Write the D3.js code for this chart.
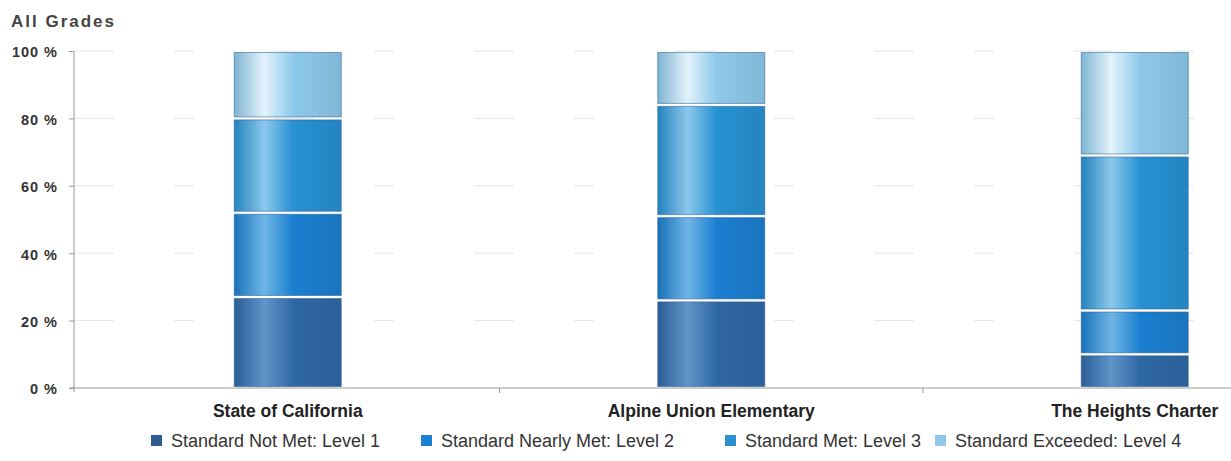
<!DOCTYPE html>
<html>
<head>
<meta charset="utf-8">
<script src="https://cdn.jsdelivr.net/npm/d3@7"></script>
<style>
  body { margin: 0; background: #fff; }
  text { font-family: "Liberation Sans", Arial, sans-serif; }
</style>
</head>
<body>
<div id="chart"></div>
<script>
// data (percent of students)
var schools = ['State of California', 'Alpine Union Elementary', 'The Heights Charter'];
var levels = ['Standard Not Met: Level 1', 'Standard Nearly Met: Level 2', 'Standard Met: Level 3', 'Standard Exceeded: Level 4'];
var level1 = [27, 26, 10];
var level2 = [25, 25, 13];
var level3 = [28, 33, 46];
var level4 = [20, 16, 31];
var yTicks = [0, 20, 40, 60, 80, 100];

var colors = ['#2f68a6', '#1b7fd0', '#2791d3', '#8cc9ea'];
var lightColors = ['#5f95c8', '#6fb5e6', '#8cc8ec', '#e3f3fb'];
var legendColors = ['#2e5d94', '#1a80d4', '#2a8fcc', '#8fc8e8'];

var width = 1231, height = 461;
var margin = { top: 51, left: 74, bottom: 73 };

var svg = d3.select('#chart').append('svg')
    .attr('width', width)
    .attr('height', height);

// gradients to get the shiny-bar look
var defs = svg.append('defs');
colors.forEach(function (c, i) {
    var grad = defs.append('linearGradient')
        .attr('id', 'g' + i)
        .attr('x1', '0%').attr('x2', '100%').attr('y1', '0%').attr('y2', '0%');
    grad.append('stop').attr('offset', '0%').attr('stop-color', d3.color(c).darker(0.3));
    grad.append('stop').attr('offset', '28%').attr('stop-color', lightColors[i]);
    grad.append('stop').attr('offset', '55%').attr('stop-color', c);
    grad.append('stop').attr('offset', '100%').attr('stop-color', d3.color(c).darker(0.25));
});

var y = d3.scaleLinear()
    .domain([0, 100])
    .range([height - margin.bottom, margin.top]);

// band range runs past the right edge, like the cropped original
var x = d3.scaleBand()
    .domain(schools)
    .range([margin.left + 2, margin.left + 2 + 3 * 423.5])
    .paddingInner(0)
    .paddingOuter(0);

var barWidth = 107;

// faint gridlines
svg.append('g')
    .selectAll('line')
    .data(yTicks.slice(1))
    .enter().append('line')
    .attr('x1', margin.left)
    .attr('x2', width)
    .attr('y1', function (d) { return y(d); })
    .attr('y2', function (d) { return y(d); })
    .attr('stroke', '#e4e4e4')
    .attr('stroke-width', 1)
    .attr('stroke-dasharray', '40,60,20,80');

// stack the series
var rows = schools.map(function (s, i) {
    return { school: s, l1: level1[i], l2: level2[i], l3: level3[i], l4: level4[i] };
});
var stack = d3.stack().keys(['l1', 'l2', 'l3', 'l4']);
var series = stack(rows);

var layer = svg.append('g')
    .selectAll('g')
    .data(series)
    .enter().append('g')
    .attr('fill', function (d, i) { return 'url(#g' + i + ')'; });

layer.selectAll('rect')
    .data(function (d) { return d; })
    .enter().append('rect')
    .attr('x', function (d) { return x(d.data.school) + x.bandwidth() / 2 - barWidth / 2; })
    .attr('width', barWidth)
    .attr('y', function (d) { return y(d[1]) + 1.5; })
    .attr('height', function (d) { return Math.max(0, y(d[0]) - y(d[1]) - 3); })
    .attr('stroke', '#2a5d8f')
    .attr('stroke-opacity', 0.55)
    .attr('stroke-width', 1);

// y axis
var yAxis = svg.append('g')
    .attr('transform', 'translate(' + margin.left + ',0)')
    .call(d3.axisLeft(y).tickValues(yTicks).tickSize(5).tickFormat(function (d) { return d + ' %'; }));
yAxis.select('.domain').attr('stroke', '#999').attr('d', 'M0,' + y(100) + 'V' + (y(0) + 4));
yAxis.selectAll('.tick line').attr('stroke', '#999');
yAxis.selectAll('.tick text')
    .attr('x', -16)
    .attr('dy', '0.4em')
    .attr('fill', '#333')
    .style('font-size', '14.5px')
    .style('font-weight', 'bold')
    .style('letter-spacing', '1px');

// x axis
var xAxis = svg.append('g')
    .attr('transform', 'translate(0,' + y(0) + ')');
xAxis.append('line')
    .attr('x1', margin.left - 5)
    .attr('x2', width)
    .attr('stroke', '#999');
xAxis.selectAll('line.tick')
    .data(schools.slice(1))
    .enter().append('line')
    .attr('class', 'tick')
    .attr('x1', function (d) { return x(d); })
    .attr('x2', function (d) { return x(d); })
    .attr('y2', 5)
    .attr('stroke', '#999');
xAxis.selectAll('text')
    .data(schools)
    .enter().append('text')
    .attr('x', function (d) { return x(d) + x.bandwidth() / 2; })
    .attr('y', 29)
    .attr('text-anchor', 'middle')
    .attr('fill', '#222')
    .style('font-size', '17.5px')
    .style('font-weight', 'bold')
    .text(function (d) { return d; });

// title
svg.append('text')
    .attr('x', 11)
    .attr('y', 27)
    .attr('fill', '#444')
    .style('font-size', '17px')
    .style('font-weight', 'bold')
    .style('letter-spacing', '2px')
    .text('All Grades');

// legend
var legendX = [151, 421, 725, 935];
var legend = svg.append('g')
    .selectAll('g')
    .data(levels)
    .enter().append('g')
    .attr('transform', function (d, i) { return 'translate(' + legendX[i] + ',435)'; });
legend.append('rect')
    .attr('width', 11)
    .attr('height', 11)
    .attr('fill', function (d, i) { return legendColors[i]; });
legend.append('text')
    .attr('x', 20)
    .attr('y', 12)
    .attr('fill', '#333')
    .style('font-size', '18px')
    .text(function (d) { return d; });
</script>
</body>
</html>
